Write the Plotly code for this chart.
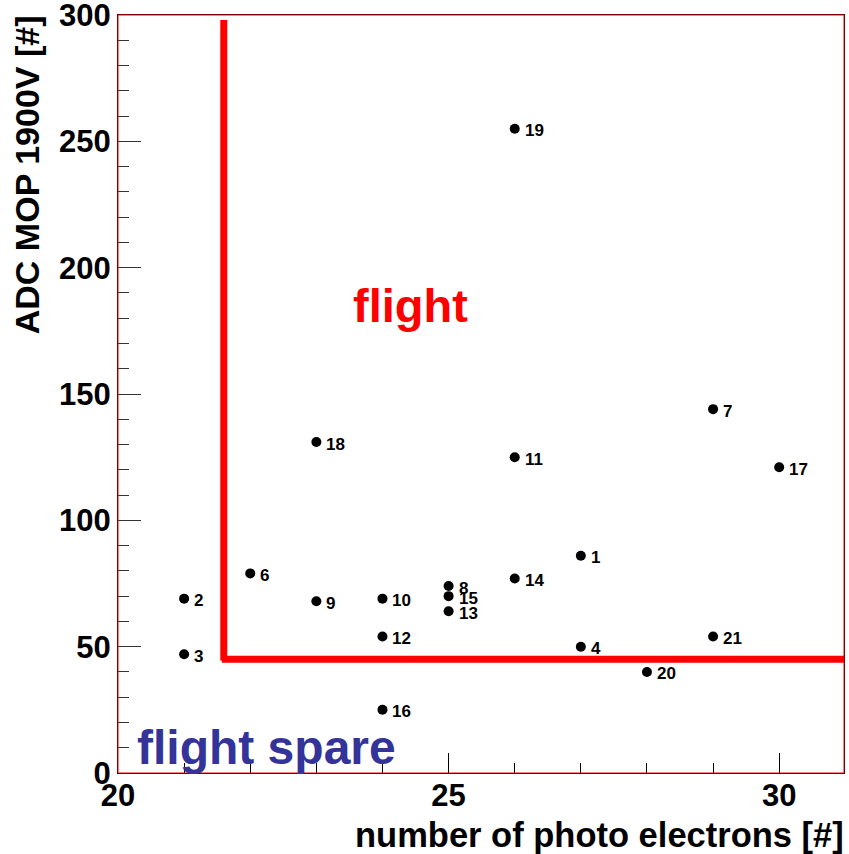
import plotly.graph_objects as go

# Data: number of photo electrons vs ADC MOP at 1900V, labelled by module id
module_ids = ["1", "2", "3", "4", "6", "7", "8", "9", "10", "11", "12",
              "13", "14", "15", "16", "17", "18", "19", "20", "21"]
photo_electrons = [27, 21, 21, 27, 22, 29, 25, 23, 24, 26, 24,
                   25, 26, 25, 24, 30, 23, 26, 28, 29]
adc_mop = [86, 69, 47, 50, 79, 144, 74, 68, 69, 125, 54,
           64, 77, 70, 25, 121, 131, 255, 40, 54]

# Selection cuts
cut_x = [21.6]
cut_y = [45]
cut_top = [298]

x_range = [20, 30.98]
y_range = [0, 300]

FONT = "Liberation Sans, Arial, Helvetica, sans-serif"

fig = go.Figure()

fig.add_trace(go.Scatter(
    x=photo_electrons, y=adc_mop, mode="markers",
    marker=dict(color="black", size=10, line=dict(width=0)),
    showlegend=False, hoverinfo="skip",
))

annotations = []
for xi, yi, lab in zip(photo_electrons, adc_mop, module_ids):
    annotations.append(dict(
        x=xi, y=yi, xref="x", yref="y", text=lab, showarrow=False,
        xanchor="left", yanchor="middle", xshift=8, yshift=-2,
        font=dict(family=FONT, size=17, color="black", weight="bold"),
    ))

# region labels
annotations.append(dict(
    x=24.42, y=185, xref="x", yref="y", text="flight", showarrow=False,
    xanchor="center", yanchor="middle",
    font=dict(family=FONT, size=47, color="#ff0000", weight="bold"),
))
annotations.append(dict(
    x=20.26, y=0, xref="x", yref="y", text="flight spare", showarrow=False,
    xanchor="left", yanchor="bottom", yshift=-3,
    font=dict(family=FONT, size=48, color="#333399", weight="bold"),
))

# axis titles
annotations.append(dict(
    x=1.003, y=-0.082, xref="paper", yref="paper",
    text="number of photo electrons [#]", showarrow=False,
    xanchor="right", yanchor="middle",
    font=dict(family=FONT, size=34.5, color="black", weight="bold"),
))
annotations.append(dict(
    x=-0.125, y=1.002, xref="paper", yref="paper",
    text="ADC MOP 1900V [#]", showarrow=False, textangle=-90,
    xanchor="center", yanchor="top",
    font=dict(family=FONT, size=34, color="black", weight="bold"),
))

shapes = [
    # frame (red inner line)
    dict(type="rect", xref="paper", yref="paper", x0=0, x1=1, y0=0, y1=1,
         line=dict(color="#ff0000", width=1), layer="above"),
    # vertical cut line
    dict(type="line", xref="x", yref="y", x0=cut_x[0], x1=cut_x[0],
         y0=cut_top[0], y1=cut_y[0] - 0.5,
         line=dict(color="#ff0000", width=7)),
    # horizontal cut line (runs slightly past the frame)
    dict(type="line", xref="x", yref="y", x0=cut_x[0] - 0.03, x1=31.1,
         y0=cut_y[0], y1=cut_y[0],
         line=dict(color="#ff0000", width=7)),
]

fig.update_layout(
    width=849, height=854,
    margin=dict(l=118, r=5, t=15, b=81, pad=0, autoexpand=False),
    paper_bgcolor="white", plot_bgcolor="white",
    showlegend=False,
    annotations=annotations,
    shapes=shapes,
    xaxis=dict(
        range=x_range, showgrid=False, zeroline=False, automargin=False,
        tickmode="array", tickvals=[20, 25, 30], ticktext=["20", "25", "30"],
        ticks="inside", ticklen=20, tickwidth=1, tickcolor="black",
        minor=dict(dtick=1, tick0=20, ticks="inside", ticklen=10,
                   tickwidth=1, tickcolor="black", showgrid=False),
        showline=True, linecolor="black", linewidth=1, mirror=True,
        tickfont=dict(family=FONT, size=31, color="black", weight="bold"),
        ticklabelstandoff=-5, ticklabeloverflow="allow",
    ),
    yaxis=dict(
        range=y_range, showgrid=False, zeroline=False, automargin=False,
        tickmode="array", tickvals=[0, 50, 100, 150, 200, 250, 300],
        ticks="inside", ticklen=23, tickwidth=1, tickcolor="#333333",
        minor=dict(dtick=10, tick0=0, ticks="inside", ticklen=11,
                   tickwidth=1, tickcolor="#333333", showgrid=False),
        showline=True, linecolor="black", linewidth=1, mirror=True,
        tickfont=dict(family=FONT, size=31, color="black", weight="bold"),
        ticklabelstandoff=0, ticklabeloverflow="allow",
    ),
)

fig.write_html("out.html")
